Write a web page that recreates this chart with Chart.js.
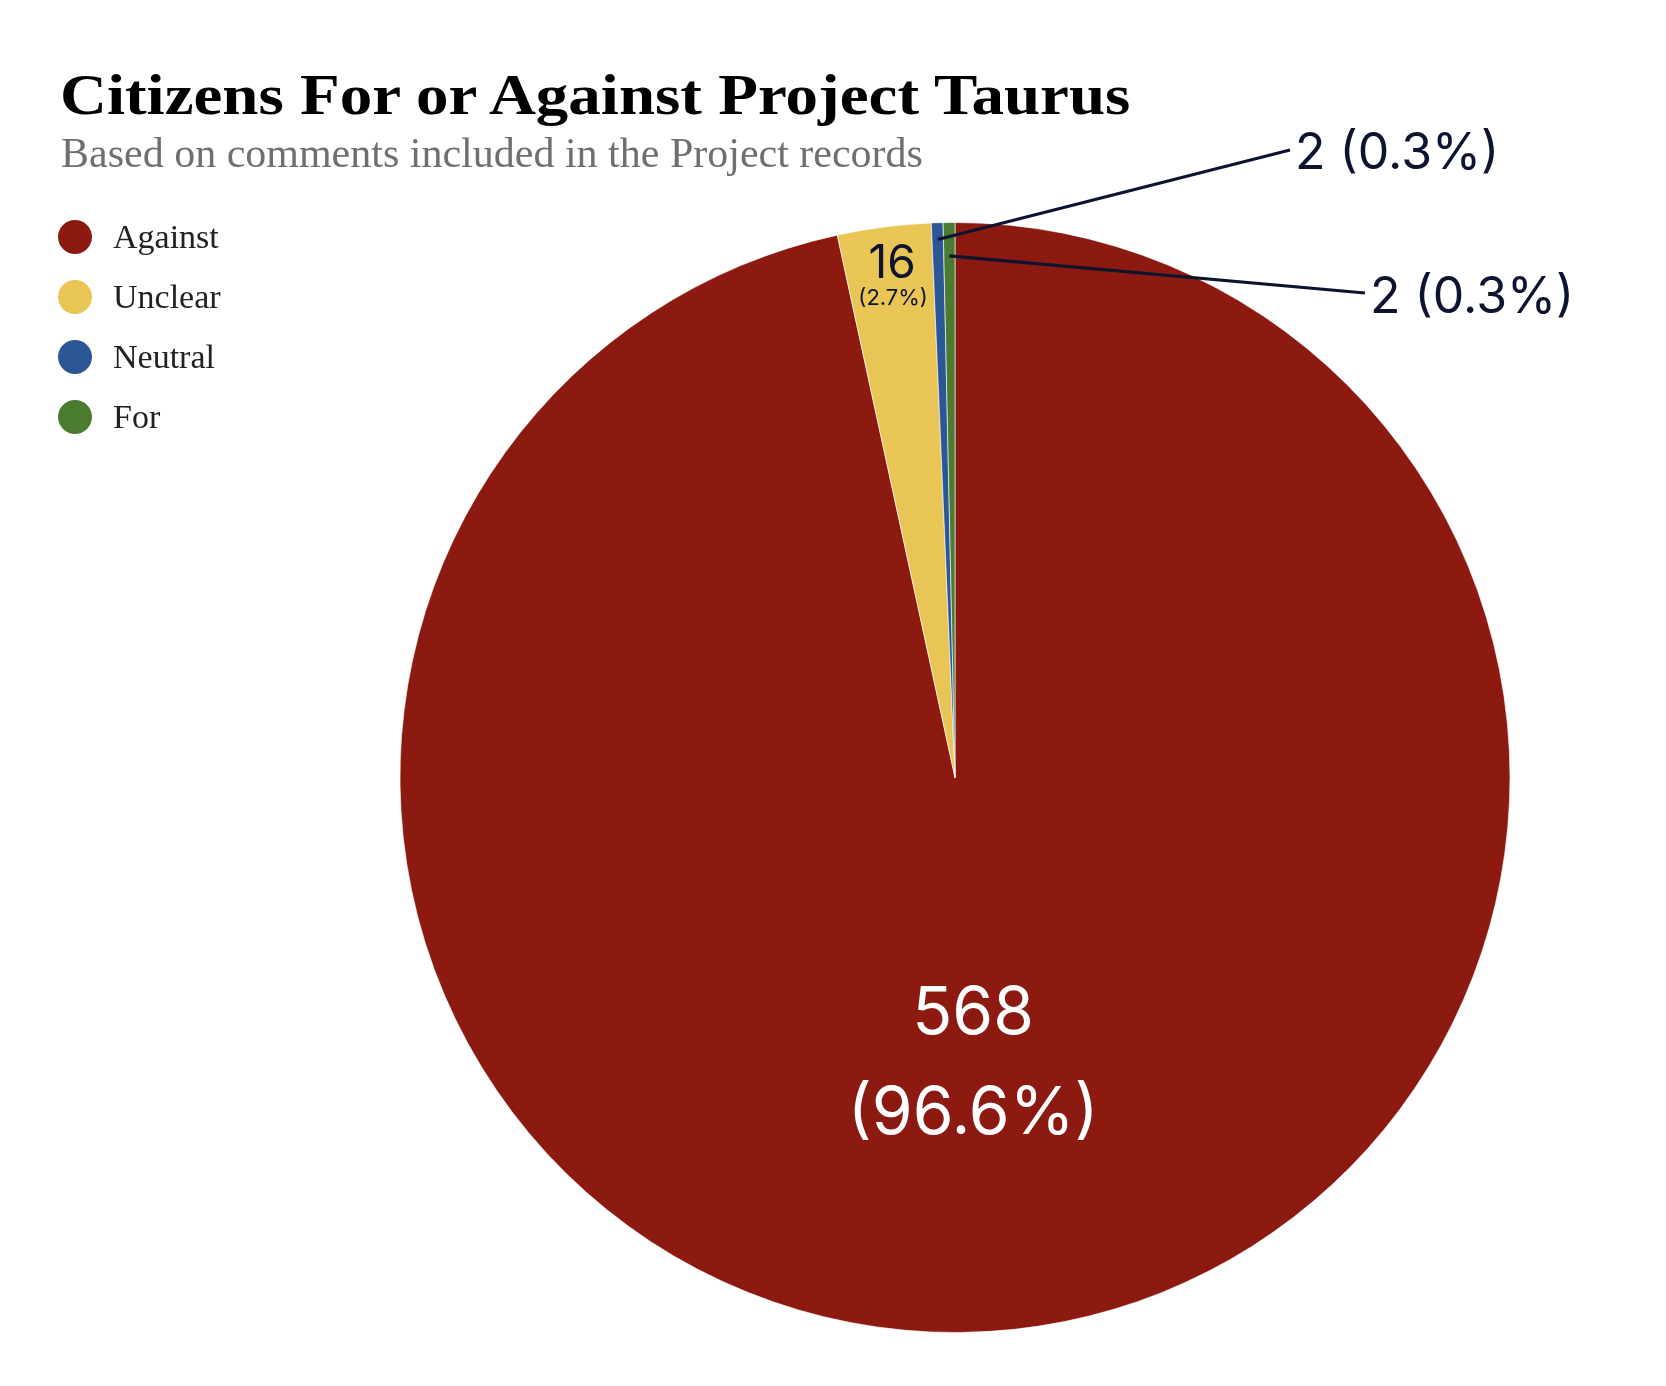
<!DOCTYPE html>
<html>
<head>
<meta charset="utf-8">
<script src="https://cdn.jsdelivr.net/npm/chart.js@4/dist/chart.umd.min.js"></script>
<style>
  html, body { margin: 0; padding: 0; background: #fff; }
  #wrap { position: relative; width: 1666px; height: 1386px; }
  #chart { position: absolute; left: 0; top: 0; }
  .title { position: absolute; left: 60px; top: 66px; font: bold 57px "Liberation Serif", serif; line-height: 1; color: #000; white-space: nowrap; transform: scaleX(1.14); transform-origin: 0 0; }
  .subtitle { position: absolute; left: 61px; top: 132px; font: 42px "Liberation Serif", serif; line-height: 1; color: #6f6f6f; white-space: nowrap; }
  #legend { position: absolute; left: 58px; top: 207px; }
  .item { display: flex; align-items: center; height: 60px; font: 34px "Liberation Serif", serif; line-height: 1; color: #222; }
  .dot { width: 34px; height: 34px; border-radius: 50%; margin-right: 21px; }
</style>
</head>
<body>
<div id="wrap">
  <canvas id="chart" width="1666" height="1386"></canvas>
  <div class="title">Citizens For or Against Project Taurus</div>
  <div class="subtitle">Based on comments included in the Project records</div>
  <div id="legend"></div>
</div>
<script>
// data
let labels = ["Against", "Unclear", "Neutral", "For"];
let counts = [568, 16, 2, 2];
let colors = ["#8c1a11", "#e8c554", "#2b5797", "#4a7b2f"];

let total = counts.reduce((a, b) => a + b, 0);
function pct(v) { return (v / total * 100).toFixed(1) + "%"; }

// legend
let legend = document.getElementById('legend');
labels.forEach((l, i) => {
  legend.innerHTML += '<div class="item"><span class="dot" style="background:' + colors[i] + '"></span>' + l + '</div>';
});

const sansFont = '"Inter", "Noto Sans", sans-serif';
const ink = '#0e1430';

// labels on and beside the slices
const sliceLabels = {
  id: 'sliceLabels',
  afterDatasetsDraw(chart) {
    const ctx = chart.ctx;
    const arcs = chart.getDatasetMeta(0).data;
    function at(arc, f) {
      const mid = (arc.startAngle + arc.endAngle) / 2;
      return { x: arc.x + Math.cos(mid) * arc.outerRadius * f, y: arc.y + Math.sin(mid) * arc.outerRadius * f };
    }
    ctx.save();
    ctx.textAlign = 'center';
    ctx.textBaseline = 'alphabetic';

    // Against - big white label inside
    let p = at(arcs[0], 0.51);
    ctx.fillStyle = '#fff';
    ctx.font = '66px ' + sansFont;
    ctx.fillText(String(counts[0]), p.x - 12, p.y - 25);
    ctx.fillText('(' + pct(counts[0]) + ')', p.x - 12, p.y + 75);

    // Unclear - small dark label inside
    p = at(arcs[1], 0.9);
    ctx.fillStyle = ink;
    ctx.font = '46px ' + sansFont;
    ctx.fillText(String(counts[1]), p.x + 1, p.y - 4);
    ctx.font = '22px ' + sansFont;
    ctx.fillText('(' + pct(counts[1]) + ')', p.x + 2, p.y + 23);

    // Neutral and For - callouts
    const callouts = [
      { i: 2, f: 0.97, end: { x: 1290, y: 150 }, base: 169 },
      { i: 3, f: 0.94, end: { x: 1365, y: 293 }, base: 313 }
    ];
    ctx.strokeStyle = ink;
    ctx.lineWidth = 3.2;
    ctx.font = '50px ' + sansFont;
    ctx.textAlign = 'left';
    callouts.forEach(c => {
      const s = at(arcs[c.i], c.f);
      ctx.beginPath();
      ctx.moveTo(s.x, s.y);
      ctx.lineTo(c.end.x, c.end.y);
      ctx.stroke();
      ctx.fillText(counts[c.i] + ' (' + pct(counts[c.i]) + ')', c.end.x + 5, c.base);
    });
    ctx.restore();
  }
};

new Chart(document.getElementById('chart'), {
  type: 'pie',
  data: {
    labels: labels,
    datasets: [{
      data: counts,
      backgroundColor: colors,
      borderColor: 'rgba(255,255,255,0.6)',
      borderWidth: 1
    }]
  },
  options: {
    responsive: false,
    animation: false,
    events: [],
    layout: { padding: { left: 399, right: 155, top: 222, bottom: 53 } },
    plugins: {
      legend: { display: false },
      tooltip: { enabled: false }
    }
  },
  plugins: [sliceLabels]
});
</script>
</body>
</html>
